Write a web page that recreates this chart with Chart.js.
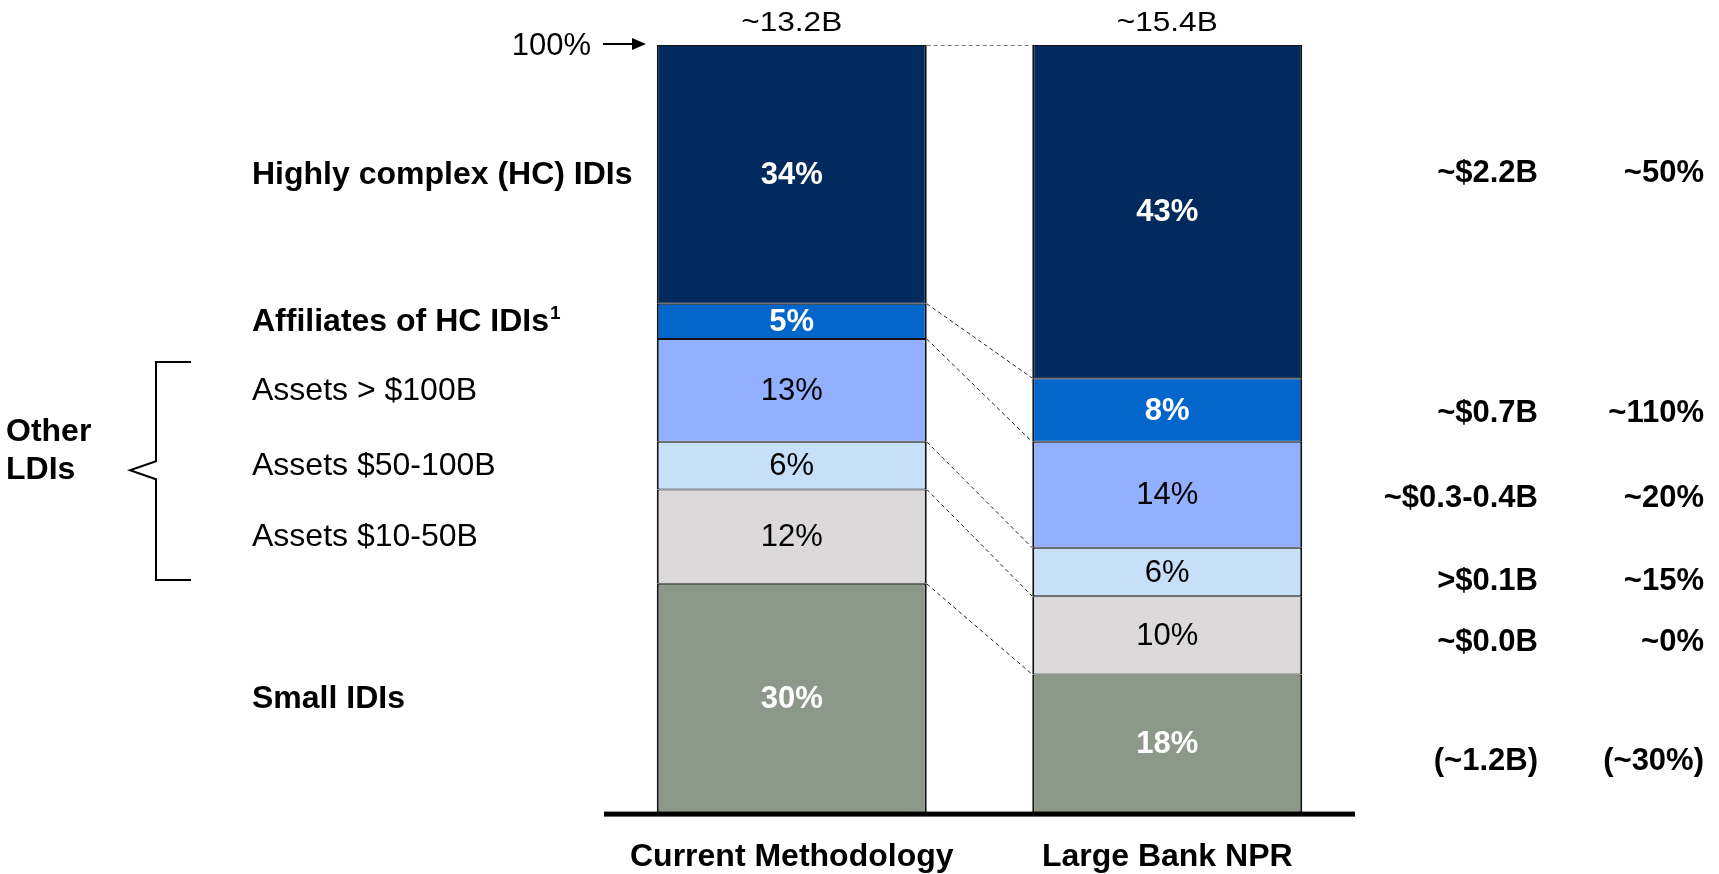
<!DOCTYPE html>
<html>
<head>
<meta charset="utf-8">
<title>Assessment base by institution tier</title>
<script src="https://cdn.jsdelivr.net/npm/chart.js@4/dist/chart.umd.min.js"></script>
<style>
  html, body { margin: 0; padding: 0; background: #ffffff; overflow: hidden; }
  #wrap { width: 1719px; height: 874px; position: relative; }
</style>
</head>
<body>
<div id="wrap"><canvas id="chart" width="1719" height="874"></canvas></div>
<script>
// ---- data (tiers listed top of the stack first) ----
const methods = ['Current Methodology', 'Large Bank NPR'];
const totals = ['~13.2B', '~15.4B'];
const tiers = ['Highly complex (HC) IDIs', 'Affiliates of HC IDIs', 'Assets > $100B', 'Assets $50-100B', 'Assets $10-50B', 'Small IDIs'];
const currentShare = [33.7, 4.6, 13.4, 6.2, 12.3, 29.8];
const nprShare = [43.4, 8.3, 13.8, 6.3, 10.2, 18.0];
const changeAmount = ['~$2.2B', '~$0.7B', '~$0.3-0.4B', '>$0.1B', '~$0.0B', '(~1.2B)'];
const changePct = ['~50%', '~110%', '~20%', '~15%', '~0%', '(~30%)'];
// vertical anchors (in % of the axis) of the change rows on the right
const changeRowAt = [83.3, 52.0, 40.9, 30.1, 22.2, 6.7];

// ---- styling ----
const FONT = "'Liberation Sans', Arial, Helvetica, sans-serif";
const tierColors = ['#022A5E', '#0366CB', '#93B0FE', '#C6E0FA', '#DBD9DA', '#8D9988'];
const tierBold = [true, true, false, false, false, true];
const tierInk = ['#ffffff', '#ffffff', '#000000', '#000000', '#000000', '#ffffff'];

const datasets = tiers.map((name, i) => ({
  label: name,
  data: [currentShare[i], nprShare[i]],
  backgroundColor: tierColors[i],
  borderColor: '#111111',
  borderWidth: { top: 1, bottom: 1, left: 2, right: 2 },
  borderSkipped: false,
  barPercentage: 0.719,
  categoryPercentage: 1.0,
  tierIndex: i
})).reverse(); // first dataset sits at the bottom of the stack

function textAt(ctx, str, x, y, opts) {
  ctx.save();
  ctx.font = (opts.bold ? 'bold ' : '') + opts.size + 'px ' + FONT;
  ctx.fillStyle = opts.color || '#000';
  ctx.textAlign = opts.align || 'left';
  ctx.textBaseline = 'middle';
  if (opts.stretch) {
    ctx.translate(x, y);
    ctx.scale(opts.stretch, 1);
    ctx.fillText(str, 0, 0);
  } else {
    ctx.fillText(str, x, y);
  }
  ctx.restore();
}

const decorations = {
  id: 'decorations',
  afterDatasetsDraw(chart) {
    const ctx = chart.ctx;
    const area = chart.chartArea;
    const ys = chart.scales.y;

    // segment elements per tier (top-down index), per bar
    const seg = [];
    chart.data.datasets.forEach((ds, di) => {
      seg[ds.tierIndex] = chart.getDatasetMeta(di).data;
    });

    // values inside the segments
    seg.forEach((els, t) => {
      els.forEach((el, b) => {
        const v = chart.data.datasets.find(d => d.tierIndex === t).data[b];
        textAt(ctx, Math.round(v) + '%', el.x, (el.y + el.base) / 2 + 1,
          { size: 31, bold: tierBold[t], color: tierInk[t], align: 'center' });
      });
    });

    // dashed connectors between matching segment edges
    const left = seg[0][0], right = seg[0][1];
    const x1 = left.x + left.width / 2, x2 = right.x - right.width / 2;
    ctx.save();
    ctx.lineWidth = 1;
    ctx.setLineDash([4, 3]);
    ctx.strokeStyle = '#7a7a7a';
    ctx.beginPath();
    ctx.moveTo(x1, ys.getPixelForValue(100) + 0.5);
    ctx.lineTo(x2, ys.getPixelForValue(100) + 0.5);
    ctx.stroke();
    ctx.strokeStyle = '#222222';
    for (let t = 1; t < seg.length; t++) {
      ctx.beginPath();
      ctx.moveTo(x1, seg[t][0].y);
      ctx.lineTo(x2, seg[t][1].y);
      ctx.stroke();
    }
    ctx.restore();

    // ground line
    ctx.fillStyle = '#000';
    ctx.fillRect(area.left, area.bottom - 1, area.right - area.left, 5);

    // totals above the bars
    seg[0].forEach((el, b) => {
      textAt(ctx, totals[b], el.x, area.top - 21, { size: 27, align: 'center', stretch: 1.17 });
    });

    // 100% marker with arrow
    const yTop = ys.getPixelForValue(100);
    textAt(ctx, '100%', 591, yTop + 1, { size: 31, align: 'right' });
    ctx.save();
    ctx.strokeStyle = '#000';
    ctx.lineWidth = 2;
    ctx.beginPath();
    ctx.moveTo(603, yTop - 1);
    ctx.lineTo(634, yTop - 1);
    ctx.stroke();
    ctx.fillStyle = '#000';
    ctx.beginPath();
    ctx.moveTo(646, yTop - 1);
    ctx.lineTo(632, yTop - 7);
    ctx.lineTo(632, yTop + 5);
    ctx.closePath();
    ctx.fill();
    ctx.restore();

    // tier names on the left, level with the first bar's segments
    seg.forEach((els, t) => {
      const el = els[0];
      const y = (el.y + el.base) / 2 + 1;
      textAt(ctx, tiers[t], 252, y, { size: 32, bold: tierBold[t] });
      if (t === 1) {
        ctx.save();
        ctx.font = 'bold 32px ' + FONT;
        const w = ctx.measureText(tiers[t]).width;
        ctx.restore();
        textAt(ctx, '1', 252 + w + 1, y - 9, { size: 19, bold: true });
      }
    });

    // bracket grouping the mid-size tiers
    const bTop = ys.getPixelForValue(58.7), bBot = ys.getPixelForValue(30.3), bTip = ys.getPixelForValue(44.6);
    ctx.save();
    ctx.strokeStyle = '#000';
    ctx.lineWidth = 2;
    ctx.beginPath();
    ctx.moveTo(191, bTop);
    ctx.lineTo(156, bTop);
    ctx.lineTo(156, bTip - 9);
    ctx.lineTo(130, bTip);
    ctx.lineTo(156, bTip + 9);
    ctx.lineTo(156, bBot);
    ctx.lineTo(191, bBot);
    ctx.stroke();
    ctx.restore();
    textAt(ctx, 'Other', 6, bTip - 38, { size: 32, bold: true });
    textAt(ctx, 'LDIs', 6, bTip, { size: 32, bold: true });

    // change columns on the right
    changeRowAt.forEach((v, r) => {
      const y = ys.getPixelForValue(v);
      textAt(ctx, changeAmount[r], 1538, y, { size: 31, bold: true, align: 'right' });
      textAt(ctx, changePct[r], 1704, y, { size: 31, bold: true, align: 'right' });
    });
  }
};

new Chart(document.getElementById('chart'), {
  type: 'bar',
  data: { labels: methods, datasets },
  options: {
    responsive: false,
    animation: false,
    layout: { padding: { left: 604, right: 364, top: 45, bottom: -27 } },
    plugins: { legend: { display: false }, tooltip: { enabled: false } },
    scales: {
      x: {
        stacked: true,
        grid: { display: false, drawTicks: false },
        border: { display: false },
        ticks: {
          color: '#000',
          font: { family: FONT, size: 32, weight: 'bold' },
          padding: 25,
          maxRotation: 0,
          autoSkip: false
        }
      },
      y: { stacked: true, display: false, min: 0, max: 100 }
    }
  },
  plugins: [decorations]
});
</script>
</body>
</html>
